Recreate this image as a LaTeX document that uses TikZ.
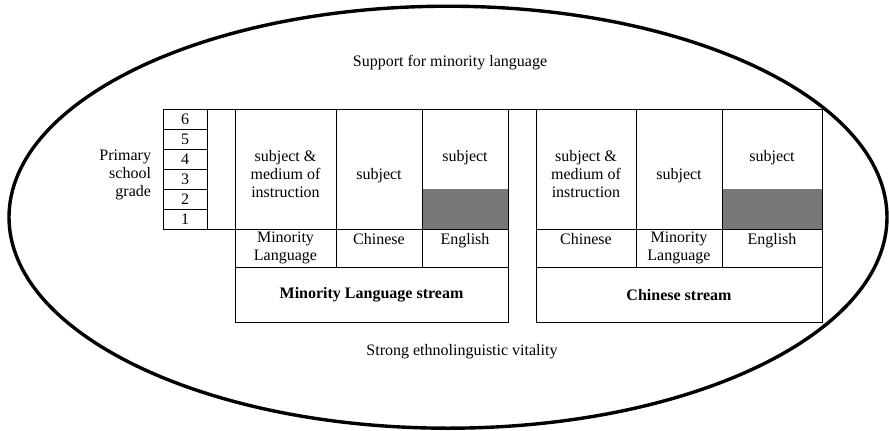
\documentclass[tikz,border=0pt]{standalone}
\usepackage{fontspec}
\setmainfont{Liberation Serif}
\definecolor{shade}{HTML}{787878}
\definecolor{rule}{HTML}{8A8A8A}
\begin{document}
\begin{tikzpicture}[x=1pt,y=-1pt,
  every node/.style={font=\fontsize{16}{18}\selectfont, inner sep=0pt, outer sep=0pt},
  cell/.style={draw, line width=0.8pt, anchor=north west},
  shadebox/.style={fill=shade, anchor=north west},
  txt/.style={align=center, anchor=center},
  bold/.style={font=\fontsize{16}{18}\selectfont\bfseries}]
\useasboundingbox (0,0) rectangle (889,431);

% outer ellipse
\draw[line width=3.4pt] (448,217.2) ellipse [x radius=439pt, y radius=211pt];

% context labels
\node[txt] (support) at (450,63) {Support for minority language};
\node[txt] (vitality) at (462,352) {Strong ethnolinguistic vitality};

% grade column
\foreach \g [count=\i from 0] in {6,5,4,3,2,1}
  \node[cell, minimum width=44pt, minimum height=20pt] (g\g) at (163,109+20*\i) {\g};
\node[cell, minimum width=28pt, minimum height=120pt] (gap) at (207,109) {};
\node[txt, align=right, anchor=east] (grade) at (151,175) {Primary\\school\\grade};

% shaded parts of the English columns
\node[shadebox, minimum width=86pt, minimum height=40pt] (mlshade) at (422,189) {};
\node[shadebox, minimum width=100pt, minimum height=40pt] (chshade) at (722,189) {};

% Minority Language stream
\node[cell, minimum width=101pt, minimum height=120pt] (mlA) at (235,109) {};
\node[cell, minimum width=86pt, minimum height=120pt] (mlB) at (336,109) {};
\node[cell, minimum width=86pt, minimum height=120pt] (mlC) at (422,109) {};
\node[cell, minimum width=101pt, minimum height=38pt] (mlLA) at (235,229) {};
\node[cell, minimum width=86pt, minimum height=38pt] (mlLB) at (336,229) {};
\node[cell, minimum width=86pt, minimum height=38pt] (mlLC) at (422,229) {};
\node[cell, minimum width=273pt, minimum height=55pt] (mlS) at (235,267) {};

% Chinese stream
\node[cell, minimum width=100pt, minimum height=120pt] (chA) at (536,109) {};
\node[cell, minimum width=86pt, minimum height=120pt] (chB) at (636,109) {};
\node[cell, minimum width=100pt, minimum height=120pt] (chC) at (722,109) {};
\node[cell, minimum width=100pt, minimum height=38pt] (chLA) at (536,229) {};
\node[cell, minimum width=86pt, minimum height=38pt] (chLB) at (636,229) {};
\node[cell, minimum width=100pt, minimum height=38pt] (chLC) at (722,229) {};
\node[cell, minimum width=286pt, minimum height=55pt] (chS) at (536,267) {};

% top rule running across both streams
\draw[line width=0.8pt] (mlC.north east) -- (chA.north west);

% cell texts, Minority Language stream
\node[txt] (mlAt) at (285.5,174.5) {subject \&\\medium of\\instruction};
\node[txt] (mlBt) at (379,175.5) {subject};
\node[txt] (mlCt) at (465,157.5) {subject};
\node[txt] (mlLAt) at (285.5,248) {Minority\\Language};
\node[txt] (mlLBt) at (379,239.5) {Chinese};
\node[txt] (mlLCt) at (465,240.5) {English};
\node[txt, bold] (mlSt) at (371.5,295) {Minority Language stream};

% cell texts, Chinese stream
\node[txt] (chAt) at (586,174.5) {subject \&\\medium of\\instruction};
\node[txt] (chBt) at (679,175.5) {subject};
\node[txt] (chCt) at (772,157.5) {subject};
\node[txt] (chLAt) at (586,239.5) {Chinese};
\node[txt] (chLBt) at (679,248) {Minority\\Language};
\node[txt] (chLCt) at (772,240.5) {English};
\node[txt, bold] (chSt) at (679,295) {Chinese stream};
\end{tikzpicture}
\end{document}
